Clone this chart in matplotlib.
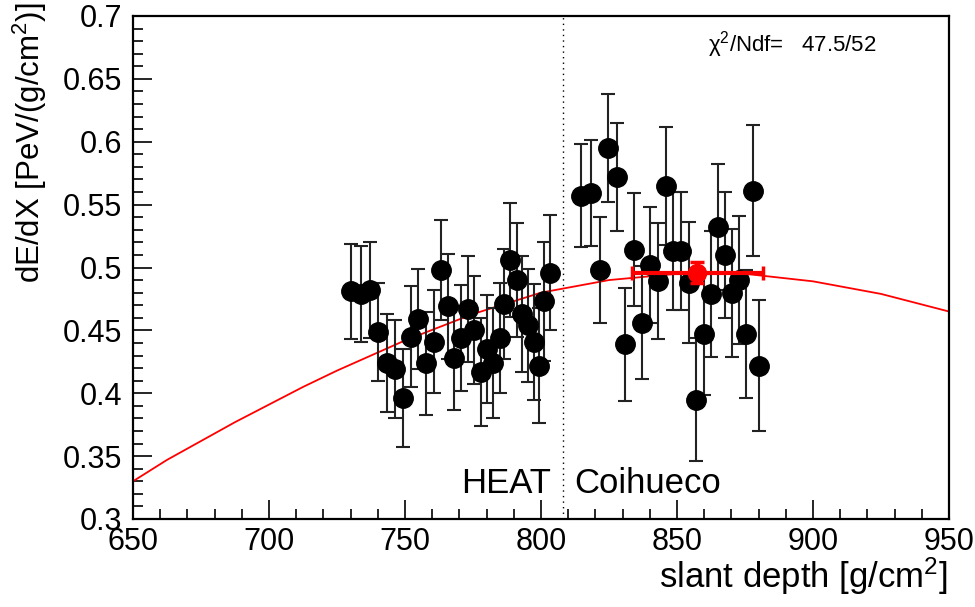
import matplotlib
matplotlib.use("Agg")
import matplotlib.pyplot as plt
from matplotlib.ticker import MultipleLocator, FuncFormatter

plt.rcParams['font.family'] = ['Liberation Sans', 'DejaVu Sans']
plt.rcParams['mathtext.fontset'] = 'custom'
plt.rcParams['mathtext.rm'] = 'Liberation Sans'
plt.rcParams['mathtext.it'] = 'Liberation Sans:italic'

# HEAT points (slant depth, dE/dX, error)
heat_x = [730.1, 733.8, 737.1, 740.1, 743.4, 746.3, 749.3, 752.2, 754.8, 757.7,
          760.7, 763.2, 765.8, 768.0, 770.6, 773.2, 775.4, 777.9, 780.1, 782.4,
          784.9, 786.4, 788.6, 791.2, 793.0, 795.2, 797.4, 799.3, 801.1, 803.3]
heat_y = [0.481, 0.479, 0.482, 0.449, 0.424, 0.419, 0.396, 0.445, 0.459, 0.424,
          0.441, 0.498, 0.469, 0.428, 0.444, 0.467, 0.450, 0.417, 0.435, 0.424,
          0.444, 0.471, 0.506, 0.490, 0.463, 0.454, 0.441, 0.422, 0.473, 0.496]
heat_err = [0.038, 0.038, 0.038, 0.039, 0.039, 0.039, 0.039, 0.040, 0.040, 0.041,
            0.041, 0.040, 0.042, 0.041, 0.042, 0.042, 0.043, 0.043, 0.043, 0.044,
            0.044, 0.044, 0.045, 0.045, 0.046, 0.045, 0.046, 0.046, 0.047, 0.046]

# Coihueco points
coi_x = [814.7, 818.4, 821.7, 824.6, 827.9, 830.9, 834.2, 837.1, 840.1, 843.0,
         846.0, 848.5, 851.5, 854.4, 857.0, 859.9, 862.5, 865.1, 867.6, 870.2,
         872.8, 875.4, 878.0, 880.1]
coi_y = [0.557, 0.559, 0.498, 0.595, 0.572, 0.439, 0.514, 0.456, 0.502, 0.489,
         0.565, 0.513, 0.513, 0.488, 0.395, 0.447, 0.479, 0.532, 0.510, 0.480,
         0.490, 0.447, 0.561, 0.422]
coi_err = [0.041, 0.042, 0.042, 0.043, 0.043, 0.045, 0.045, 0.045, 0.046, 0.046,
           0.047, 0.047, 0.047, 0.048, 0.049, 0.048, 0.050, 0.050, 0.050, 0.051,
           0.051, 0.051, 0.052, 0.052]

# fitted profile
fit_x = [650, 662.5, 675, 687.5, 700, 712.5, 725, 737.5, 750, 775, 800, 825,
         850, 875, 900, 925, 950]
fit_y = [0.330, 0.347, 0.362, 0.377, 0.391, 0.405, 0.418, 0.430, 0.442, 0.463,
         0.480, 0.490, 0.495, 0.495, 0.489, 0.479, 0.465]

# mean point
mean_x, mean_y = 857.5, 0.496
mean_xerr, mean_yerr = 24.0, 0.0085

boundary = 808.1
chi2_text = "47.5/52"

fig = plt.figure(figsize=(9.75, 6.07), dpi=100)
ax = fig.add_axes([133/975, 1-519/607, (949-133)/975, (519-16)/607])

ax.plot(fit_x, fit_y, '-', color='#ff0000', lw=1.3, zorder=2)
ax.axvline(boundary, color='black', ls=(0, (1, 3)), lw=1.0, zorder=1)

ax.errorbar(heat_x, heat_y, yerr=heat_err, fmt='o', color='black', ms=14,
            ecolor='#222222', elinewidth=1.5, capsize=5, capthick=1.5, zorder=3)
ax.errorbar(coi_x, coi_y, yerr=coi_err, fmt='o', color='black', ms=14,
            ecolor='#222222', elinewidth=1.5, capsize=5, capthick=1.5, zorder=3)
ax.errorbar([mean_x], [mean_y], xerr=[mean_xerr], yerr=[mean_yerr], fmt='o',
            color='#ff0000', ms=13, elinewidth=3, capsize=5, capthick=2.5, zorder=4)

ax.set_xlim(650, 950)
ax.set_ylim(0.3, 0.7)
ax.xaxis.set_major_locator(MultipleLocator(50))
ax.xaxis.set_minor_locator(MultipleLocator(10))
ax.yaxis.set_major_locator(MultipleLocator(0.05))
ax.yaxis.set_minor_locator(MultipleLocator(0.01))
ax.yaxis.set_major_formatter(FuncFormatter(lambda v, p: '%g' % round(v, 2)))
ax.tick_params(which='both', direction='in', top=False, right=False,
               labelsize=22, width=1.2)
ax.tick_params(axis='x', which='major', length=14, pad=6)
ax.tick_params(axis='x', which='minor', length=7)
ax.tick_params(axis='y', which='major', length=14, pad=8)
ax.tick_params(axis='y', which='minor', length=7)
for s in ax.spines.values():
    s.set_linewidth(1.6)

ax.text(803.6, 0.3207, 'HEAT', ha='right', va='baseline', fontsize=25)
ax.text(812.3, 0.3207, 'Coihueco', ha='left', va='baseline', fontsize=25)
ax.text(0.705, 0.944, u'\u03c7$^{2}$/Ndf=   ' + chi2_text, transform=ax.transAxes,
        ha='left', va='center', fontsize=16)

fig.text(948/975, 1-588/607, 'slant depth [g/cm$^{2}$]', ha='right', va='baseline', fontsize=25)
fig.text(30/975, 1-3/607, 'dE/dX [PeV/(g/cm$^{2}$)]', rotation=90,
         ha='center', va='top', fontsize=22.5)

fig.savefig('out.png', dpi=100)
